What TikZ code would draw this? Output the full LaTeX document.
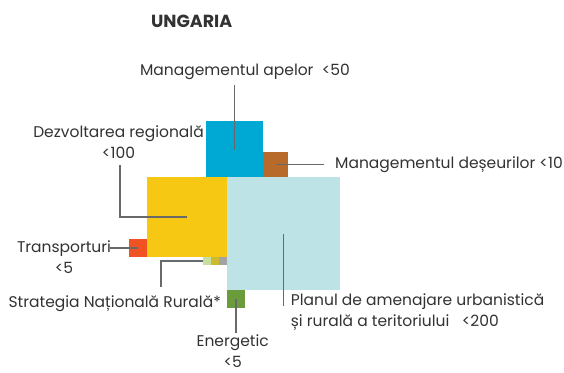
\documentclass[tikz,border=0pt]{standalone}
\usepackage{fontspec}
\setmainfont{Poppins}
\usepackage{tikz}

\definecolor{cblue}{RGB}{0,169,212}
\definecolor{cbrown}{RGB}{183,106,42}
\definecolor{cyellow}{RGB}{246,199,19}
\definecolor{cpale}{RGB}{190,227,230}
\definecolor{corange}{RGB}{240,82,35}
\definecolor{clime}{RGB}{198,223,158}
\definecolor{colive}{RGB}{205,186,46}
\definecolor{cgrey}{RGB}{163,163,163}
\definecolor{cgreen}{RGB}{106,156,60}
\definecolor{cline}{RGB}{105,105,105}
\definecolor{ctext}{RGB}{50,50,50}

\tikzset{
  sq/.style={inner sep=0pt, outer sep=0pt, minimum size=#1, anchor=north west},
  leader/.style={draw=cline, line width=1.3pt},
  lbl/.style={inner sep=0pt, text=ctext, font=\fontsize{15.5}{20.5}\selectfont}
}

\begin{document}
\begin{tikzpicture}[x=1pt,y=-1pt]
        \useasboundingbox (0,0) rectangle (564,372);
        % squares
        \node[sq=57, fill=cblue] (apel) at (206,121) {};
        \node[sq=25, fill=cbrown] (deseu) at (263,152) {};
        \node[sq=80, fill=cyellow] (dezv) at (147,177) {};
        \node[sq=113, fill=cpale] (plan) at (227,177) {};
        \node[sq=18, fill=corange] (transp) at (129,239) {};
        \node[sq=8, fill=clime] (srn1) at (203,257) {};
        \node[sq=8, fill=colive] (srn2) at (211,257) {};
        \node[sq=8, fill=cgrey] (srn3) at (219,257) {};
        \node[sq=18, fill=cgreen] (energ) at (227,290) {};
        % labels (multi-line ones sit on their last baseline)
        \node[lbl, font=\fontsize{17.5}{20}\selectfont\bfseries, anchor=base] (titlu) at (191.7,27) {UNGARIA};
        \node[lbl, anchor=base] (lapel) at (245,75) {Managementul apelor\ \ <50};
        \node[lbl, anchor=base west] (ldeseu) at (335,168) {Managementul deșeurilor <10};
        \node[lbl, anchor=base, align=center] (ldezv) at (118.5,158) {Dezvoltarea regională\\<100};
        \node[lbl, anchor=base, align=center] (ltransp) at (64,273) {Transporturi\\<5};
        \node[lbl, anchor=base] (lsrn) at (114.7,307) {Strategia Națională Rurală*};
        \node[lbl, anchor=base, align=center] (lenerg) at (232.7,367) {Energetic\\<5};
        \node[lbl, anchor=base west, align=left] (lplan) at (290.7,326) {Planul de amenajare urbanistică\\și rurală a teritoriului\ \ \ <200};
        % leaders
        \coordinate (kapel) at (234.5,85);
        \coordinate (kdeseu) at (324,164.5);
        \coordinate (kdezv) at (120,165);
        \coordinate (ktransp) at (110,248);
        \coordinate (ksrn) at (161,287);
        \coordinate (kenerg) at (236,333);
        \coordinate (kplan) at (283.5,306);
        \draw[leader] (apel.center) -- (kapel);
        \draw[leader] (deseu.center) -- (kdeseu);
        \draw[leader] (dezv.center) -| (kdezv);
        \draw[leader] (transp.center) -- (ktransp);
        \draw[leader] (srn1.west) -| (ksrn);
        \draw[leader] (energ.center) -- (kenerg);
        \draw[leader] (plan.center) -- (kplan);
    \end{tikzpicture}
\end{document}
